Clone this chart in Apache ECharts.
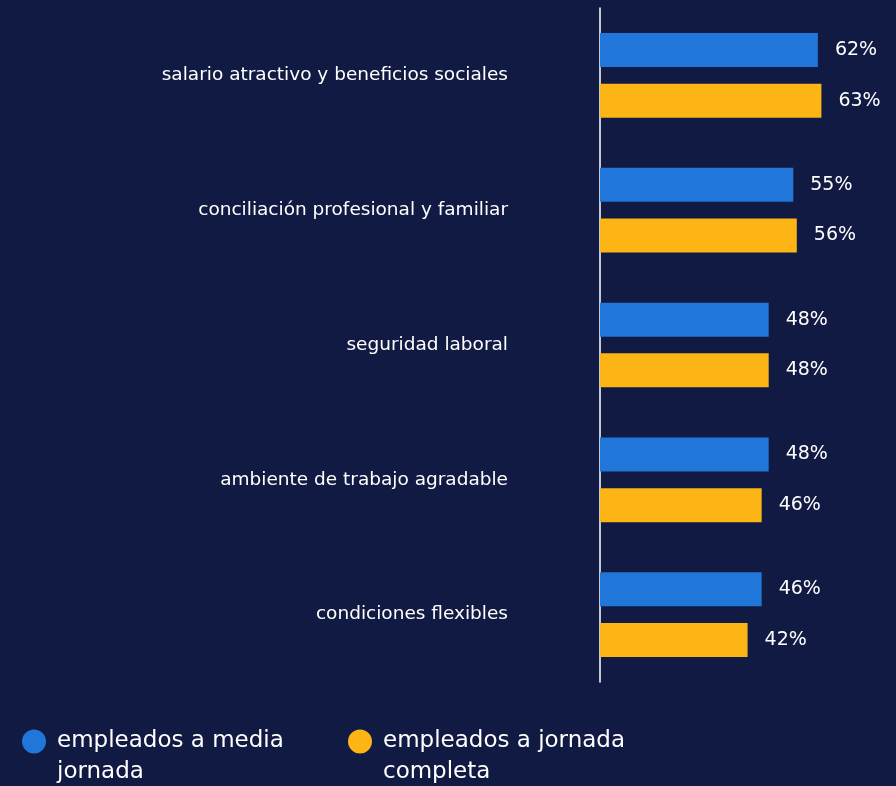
<!DOCTYPE html>
<html>
<head>
<meta charset="utf-8">
<script src="https://cdn.jsdelivr.net/npm/echarts@6/dist/echarts.min.js"></script>
<style>
  html, body { margin: 0; padding: 0; background: #111a42; }
  #chart { width: 896px; height: 786px; }
</style>
</head>
<body>
<div id="chart"></div>
<script>
// categories top to bottom
const categories = [
  "salario atractivo y beneficios sociales",
  "conciliación profesional y familiar",
  "seguridad laboral",
  "ambiente de trabajo agradable",
  "condiciones flexibles"
];
const seriesNames = ["empleados a media\njornada", "empleados a jornada\ncompleta"];
const mediaJornada = [62, 55, 48, 48, 46];
const jornadaCompleta = [63, 56, 48, 46, 42];

const FONT = "DejaVu Sans";
const chart = echarts.init(document.getElementById("chart"));

// empty first line keeps the icon level with the first text line
const legendBase = {
  orient: "horizontal",
  top: 690,
  icon: "circle",
  itemWidth: 24,
  itemHeight: 24,
  itemGap: 10,
  formatter: (name) => "\n" + name,
  textStyle: {
    color: "#ffffff",
    fontFamily: FONT,
    fontSize: 23,
    lineHeight: 31,
    padding: [0, 0, 0, 6]
  }
};

chart.setOption({
  backgroundColor: "#111a42",
  animation: false,
  legend: [
    Object.assign({}, legendBase, { left: 17, data: [seriesNames[0]] }),
    Object.assign({}, legendBase, { left: 343, data: [seriesNames[1]] })
  ],
  grid: { left: 600, right: 50, top: 8, height: 674 },
  xAxis: {
    type: "value",
    min: 0,
    max: 70,
    show: false
  },
  yAxis: {
    type: "category",
    inverse: true,
    data: categories,
    axisLine: { show: true, lineStyle: { color: "#ffffff", width: 1.5 } },
    axisTick: { show: false },
    axisLabel: {
      color: "#ffffff",
      fontFamily: FONT,
      fontSize: 18.5,
      margin: 92
    }
  },
  series: [
    {
      name: seriesNames[0],
      type: "bar",
      data: mediaJornada,
      barWidth: 34,
      barGap: "49%",
      itemStyle: { color: "#2176d9" },
      label: {
        show: true,
        position: "right",
        distance: 17,
        formatter: "{c}%",
        color: "#ffffff",
        fontFamily: FONT,
        fontSize: 19
      }
    },
    {
      name: seriesNames[1],
      type: "bar",
      data: jornadaCompleta,
      barWidth: 34,
      itemStyle: { color: "#fdb415" },
      label: {
        show: true,
        position: "right",
        distance: 17,
        formatter: "{c}%",
        color: "#ffffff",
        fontFamily: FONT,
        fontSize: 19
      }
    }
  ]
});
</script>
</body>
</html>
